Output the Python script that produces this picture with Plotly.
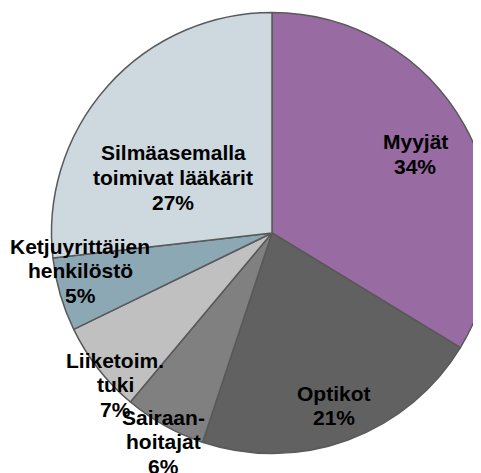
import plotly.graph_objects as go

# ---- data ----
labels = ["Myyjät", "Optikot", "Sairaanhoitajat", "Liiketoim. tuki",
          "Ketjuyrittäjien henkilöstö", "Silmäasemalla toimivat lääkärit"]
label_lines = [["Myyjät"], ["Optikot"], ["Sairaan-", "hoitajat"],
               ["Liiketoim.", "tuki"], ["Ketjuyrittäjien", "henkilöstö"],
               ["Silmäasemalla", "toimivat lääkärit"]]
values = [33.7, 21.4, 6.0, 6.7, 5.4, 26.8]
colors = ["#996BA3", "#616161", "#808080", "#C0C0C0", "#8CA8B4", "#CDD8DF"]

# ---- layout geometry (screen pixels) ----
OFF = 8              # default body margin of the html page
W, H = 490, 465
cx, cy, R = 272, 233, 220.5
label_pos = [(415, 142), (334, 393), (163, 417), (115, 360), (80, 246), (173, 153)]
LS = 24.7
FONT = dict(family="Liberation Sans, Arial, sans-serif", size=21, color="black", weight="bold")

fx0, fx1 = cx - OFF - R, cx - OFF + R
fy0, fy1 = cy - OFF - R, cy - OFF + R

fig = go.Figure(go.Pie(
    labels=labels, values=values, sort=False, direction="clockwise", rotation=0,
    marker=dict(colors=colors, line=dict(color="#595959", width=1.5)),
    textinfo="none", hoverinfo="label+percent", showlegend=False,
    domain=dict(x=[fx0 / W, fx1 / W], y=[1 - fy1 / H, 1 - fy0 / H]),
))

total = sum(values)
annotations = []
for lines, v, (lx, ly) in zip(label_lines, values, label_pos):
    all_lines = lines + [f"{round(v / total * 100)}%"]
    for i, t in enumerate(all_lines):
        sx, sy = lx - OFF, ly + i * LS - OFF
        annotations.append(dict(
            text=t, x=sx / W, y=1 - sy / H, xref="paper", yref="paper",
            xanchor="center", yanchor="middle", showarrow=False, font=FONT,
        ))

fig.update_layout(
    width=W, height=H, margin=dict(l=0, r=0, t=0, b=0),
    paper_bgcolor="white", plot_bgcolor="white",
    annotations=annotations,
)
fig.write_html("out.html", config={"displayModeBar": False})
